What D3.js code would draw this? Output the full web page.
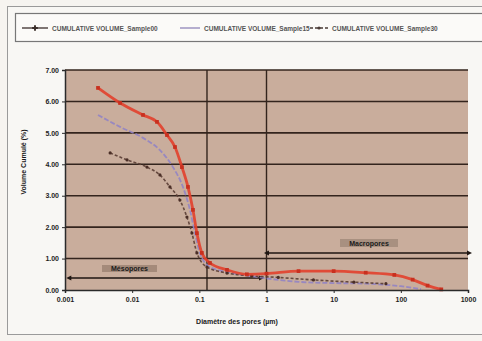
<!DOCTYPE html>
<html>
<head>
<meta charset="utf-8">
<script src="https://cdn.jsdelivr.net/npm/d3@7"></script>
<style>
  body { margin: 0; background: #f6f4f0; }
  svg { display: block; font-family: 'Liberation Sans', Arial, sans-serif; }
  .tick text { font-size: 7px; font-weight: bold; fill: #1e1e1e; }
  .title { font-size: 7px; font-weight: bold; fill: #1a1a1a; }
  .legend text { font-size: 6.5px; font-weight: bold; fill: #555; }
</style>
</head>
<body>
<script>
'use strict'
// pore diameter (µm) / cumulative volume
const redX = [0.0031, 0.0066, 0.0145, 0.0234, 0.033, 0.0434, 0.0551, 0.0677, 0.0803, 0.092, 0.109, 0.144, 0.258, 0.51, 1.0, 3.0, 10, 30, 80, 150, 250, 400]
const redY = [6.43, 5.95, 5.57, 5.35, 4.93, 4.55, 3.91, 3.28, 2.55, 1.81, 1.18, 0.86, 0.64, 0.5, 0.52, 0.6, 0.6, 0.55, 0.48, 0.33, 0.14, 0.02]
const purpleX = [0.0031, 0.0066, 0.0145, 0.0259, 0.0405, 0.057, 0.0725, 0.0861, 0.102, 0.144, 0.316, 0.8, 3.0, 10, 30, 100, 200]
const purpleY = [5.57, 5.19, 4.84, 4.45, 3.91, 3.28, 2.55, 1.81, 1.18, 0.73, 0.54, 0.4, 0.26, 0.22, 0.2, 0.12, 0.03]
const brownX = [0.0047, 0.0084, 0.0166, 0.0259, 0.0365, 0.0514, 0.0654, 0.0776, 0.092, 0.13, 0.258, 0.6, 1.5, 5, 20, 60]
const brownY = [4.36, 4.14, 3.91, 3.66, 3.28, 2.86, 2.32, 1.81, 1.18, 0.73, 0.54, 0.45, 0.4, 0.32, 0.25, 0.2]
const seriesNames = ['CUMULATIVE VOLUME_Sample00', 'CUMULATIVE VOLUME_Sample15', 'CUMULATIVE VOLUME_Sample30']
const xTicks = [0.001, 0.01, 0.1, 1, 10, 100, 1000]
const xTickLabels = ['0.001', '0.01', '0.1', '1', '10', '100', '1000']
const yTicks = [0, 1, 2, 3, 4, 5, 6, 7]
const xGrid = [0.13, 1]
const mesoRange = [0.0012, 0.8]
const macroRange = [1.05, 1000]
const mesoLevel = 0.38
const macroLevel = 1.18
const yTitle = 'Volume Cumulé (%)'
const xTitle = 'Diamètre des pores (µm)'

;(function () {
  const width = 482
  const height = 341
  const plotBox = { left: 65, right: 468, top: 70, bottom: 290 }

  const svg = d3.select('body').append('svg')
    .attr('width', width)
    .attr('height', height)

  // outer frame
  svg.append('rect')
    .attr('x', 7.5).attr('y', 6.5)
    .attr('width', 490).attr('height', 328)
    .attr('fill', '#f8f7f4')
    .attr('stroke', '#9a9a9a')

  const scaleX = d3.scaleLog().domain([0.001, 1000]).range([plotBox.left, plotBox.right])
  const scaleY = d3.scaleLinear().domain([0, 7]).range([plotBox.bottom, plotBox.top])

  // legend box
  const legend = svg.append('g').attr('class', 'legend')
  legend.append('rect')
    .attr('x', 15.5).attr('y', 13.5)
    .attr('width', 480).attr('height', 28)
    .attr('fill', '#fbfaf8')
    .attr('stroke', '#777')
    .attr('stroke-width', 1.2)
  const legendItems = [
    { x: 22, len: 26, color: '#3a2e2a', dash: null, marker: 'cross' },
    { x: 180, len: 20, color: '#8f86b8', dash: null, marker: null },
    { x: 310, len: 18, color: '#4a3b36', dash: '3,2', marker: 'dot' }
  ]
  legendItems.forEach(function (d, i) {
    legend.append('line')
      .attr('x1', d.x).attr('x2', d.x + d.len)
      .attr('y1', 28).attr('y2', 28)
      .attr('stroke', d.color)
      .attr('stroke-width', 1.3)
      .attr('stroke-dasharray', d.dash)
    if (d.marker === 'cross') {
      legend.append('path')
        .attr('d', d3.symbol(d3.symbolCross, 18)())
        .attr('transform', 'translate(' + (d.x + d.len / 2) + ',28)')
        .attr('fill', d.color)
    } else if (d.marker === 'dot') {
      legend.append('circle')
        .attr('cx', d.x + d.len / 2).attr('cy', 28).attr('r', 1.6)
        .attr('fill', d.color)
    }
    legend.append('text')
      .attr('x', d.x + d.len + 4).attr('y', 30.5)
      .text(seriesNames[i])
  })

  // plot background
  svg.append('rect')
    .attr('x', plotBox.left).attr('y', plotBox.top)
    .attr('width', plotBox.right - plotBox.left)
    .attr('height', plotBox.bottom - plotBox.top)
    .attr('fill', '#c9ad9c')

  svg.append('g')
    .selectAll('line')
    .data(yTicks.slice(1))
    .enter()
    .append('line')
    .attr('x1', plotBox.left).attr('x2', plotBox.right)
    .attr('y1', function (d) { return scaleY(d) })
    .attr('y2', function (d) { return scaleY(d) })
    .attr('stroke', '#33241d')
    .attr('stroke-width', 1.6)
  svg.append('g')
    .selectAll('line')
    .data(xGrid)
    .enter()
    .append('line')
    .attr('x1', function (d) { return scaleX(d) })
    .attr('x2', function (d) { return scaleX(d) })
    .attr('y1', plotBox.top).attr('y2', plotBox.bottom)
    .attr('stroke', '#33241d')
    .attr('stroke-width', 1.4)

  // pore range arrows
  const ranges = [
    { r: mesoRange, level: mesoLevel, label: 'Mésopores' },
    { r: macroRange, level: macroLevel, label: 'Macropores' }
  ]
  ranges.forEach(function (d) {
    const y = scaleY(d.level)
    svg.append('line')
      .attr('x1', scaleX(d.r[0])).attr('x2', scaleX(d.r[1]))
      .attr('y1', y).attr('y2', y)
      .attr('stroke', '#1e1612')
      .attr('stroke-width', 1.5)
    d.r.forEach(function (v, j) {
      const x = scaleX(v)
      const dir = j === 0 ? -1 : 1
      svg.append('path')
        .attr('d', 'M' + (x + dir * 4) + ',' + y + 'L' + (x - dir * 1) + ',' + (y - 2.5) + 'L' + (x - dir * 1) + ',' + (y + 2.5) + 'Z')
        .attr('fill', '#1e1612')
    })
  })
  svg.append('rect')
    .attr('x', 102).attr('y', 265).attr('width', 55).attr('height', 7)
    .attr('fill', '#a48a7a')
  svg.append('text')
    .attr('class', 'title')
    .attr('x', 129.5).attr('y', 271)
    .attr('text-anchor', 'middle')
    .attr('fill', '#2a201c')
    .text('Mésopores')
  svg.append('rect')
    .attr('x', 340).attr('y', 239).attr('width', 58).attr('height', 8)
    .attr('fill', '#a89080')
  svg.append('text')
    .attr('class', 'title')
    .attr('x', 369).attr('y', 245.5)
    .attr('text-anchor', 'middle')
    .attr('fill', '#2a201c')
    .text('Macropores')

  // series
  const line = d3.line()
    .x(function (d) { return scaleX(d[0]) })
    .y(function (d) { return scaleY(d[1]) })
    .curve(d3.curveMonotoneX)
  const series = [
    { xs: purpleX, ys: purpleY, color: '#9284c4', width: 1.8, dash: '5,2', marker: null },
    { xs: brownX, ys: brownY, color: '#5b3e35', width: 1.6, dash: '3,2', marker: 'dot' },
    { xs: redX, ys: redY, color: '#e2402c', width: 2.8, dash: null, marker: 'square' }
  ]
  series.forEach(function (s) {
    const pts = s.xs.map(function (x, i) { return [x, s.ys[i]] })
    svg.append('path')
      .attr('d', line(pts))
      .attr('fill', 'none')
      .attr('stroke', s.color)
      .attr('stroke-width', s.width)
      .attr('stroke-dasharray', s.dash)
      .attr('opacity', 0.9)
    if (s.marker) {
      svg.append('g')
        .selectAll('path')
        .data(pts)
        .enter()
        .append('path')
        .attr('d', d3.symbol(s.marker === 'square' ? d3.symbolSquare : d3.symbolCircle, s.marker === 'square' ? 14 : 8)())
        .attr('transform', function (d) { return 'translate(' + scaleX(d[0]) + ',' + scaleY(d[1]) + ')' })
        .attr('fill', s.marker === 'square' ? '#c8301f' : '#4a2e26')
    }
  })

  // axes
  const axisX = d3.axisBottom(scaleX)
    .tickValues(xTicks)
    .tickFormat(function (d, i) { return xTickLabels[i] })
    .tickSize(3)
  const axisY = d3.axisLeft(scaleY)
    .tickValues(yTicks)
    .tickFormat(d3.format('.2f'))
    .tickSize(3)
  svg.append('g')
    .attr('transform', 'translate(0,' + plotBox.bottom + ')')
    .call(axisX)
    .call(function (g) {
      g.select('.domain').attr('stroke', '#2a2a2a').attr('stroke-width', 1.5)
      g.selectAll('.tick line').attr('stroke', '#2a2a2a')
      g.selectAll('.tick text').attr('dy', '0.9em')
    })
  svg.append('g')
    .attr('transform', 'translate(' + plotBox.left + ',0)')
    .call(axisY)
    .call(function (g) {
      g.select('.domain').attr('stroke', '#2a2a2a').attr('stroke-width', 1.5)
      g.selectAll('.tick line').attr('stroke', '#2a2a2a')
    })

  svg.append('text')
    .attr('class', 'title')
    .attr('text-anchor', 'middle')
    .attr('transform', 'translate(26,162) rotate(-90)')
    .text(yTitle)
  svg.append('text')
    .attr('class', 'title')
    .attr('text-anchor', 'middle')
    .attr('x', 237).attr('y', 324)
    .text(xTitle)
})()
</script>
</body>
</html>
